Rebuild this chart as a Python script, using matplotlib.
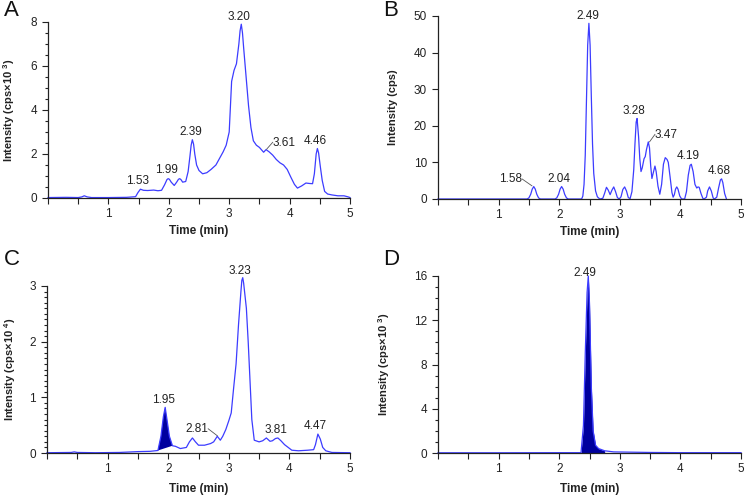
import numpy as np
import matplotlib
matplotlib.use("Agg")
from matplotlib import pyplot as plt
from matplotlib.ticker import MultipleLocator

plt.rcParams['font.family'] = ['Liberation Sans', 'DejaVu Sans']
plt.rcParams['mathtext.fontset'] = 'custom'
plt.rcParams['mathtext.rm'] = 'Liberation Sans:bold'
plt.rcParams['mathtext.default'] = 'rm'

# panel A: chromatogram (cps x 10^3)
a_time = [0, 0.3, 0.5, 0.56, 0.6, 0.65, 0.72, 1.0, 1.3, 1.45,
          1.49, 1.53, 1.58, 1.65, 1.75, 1.82, 1.88, 1.93, 1.97, 1.99,
          2.01, 2.04, 2.09, 2.13, 2.16, 2.18, 2.2, 2.23, 2.28, 2.32,
          2.35, 2.37, 2.39, 2.41, 2.43, 2.46, 2.5, 2.56, 2.63, 2.7,
          2.78, 2.85, 2.9, 2.95, 3.0, 3.04, 3.08, 3.12, 3.16, 3.18,
          3.2, 3.22, 3.24, 3.28, 3.32, 3.36, 3.4, 3.45, 3.5, 3.57,
          3.61, 3.66, 3.72, 3.78, 3.84, 3.9, 3.96, 4.02, 4.08, 4.13,
          4.2, 4.27, 4.33, 4.38, 4.41, 4.44, 4.46, 4.48, 4.51, 4.54,
          4.58, 4.63, 4.7, 4.8, 4.9, 4.97, 5.0]
a_int = [0.02, 0.03, 0.02, 0.05, 0.1, 0.05, 0.02, 0.02, 0.03, 0.06,
         0.25, 0.4, 0.35, 0.34, 0.36, 0.33, 0.35, 0.6, 0.84, 0.88,
         0.85, 0.72, 0.57, 0.72, 0.85, 0.88, 0.84, 0.72, 0.75, 1.2,
         1.9, 2.4, 2.65, 2.45, 2.0, 1.5, 1.25, 1.1, 1.15, 1.3,
         1.5, 1.85, 2.1, 2.4, 3.0, 5.3, 5.8, 6.1, 7.0, 7.6,
         7.9, 7.5, 6.8, 5.5, 4.2, 3.2, 2.6, 2.4, 2.3, 2.08,
         2.2, 2.1, 1.95, 1.75, 1.6, 1.5, 1.3, 0.95, 0.62, 0.45,
         0.55, 0.68, 0.66, 0.65, 1.1, 2.0, 2.25, 2.05, 1.4, 0.8,
         0.3, 0.18, 0.14, 0.1, 0.1, 0.05, 0.02]

# panel B: chromatogram (cps)
b_time = [0, 1.47, 1.5, 1.53, 1.555, 1.58, 1.605, 1.63, 1.66, 1.69,
          1.93, 1.96, 1.99, 2.015, 2.04, 2.065, 2.09, 2.12, 2.15,
          2.37, 2.39, 2.41, 2.43, 2.45, 2.47, 2.49, 2.51, 2.53, 2.55, 2.57, 2.6, 2.63, 2.67,
          2.72, 2.75, 2.78, 2.81, 2.84, 2.87, 2.9, 2.93, 2.96, 2.99, 3.02, 3.05, 3.08,
          3.11, 3.14, 3.17,
          3.2, 3.23, 3.25, 3.27, 3.285, 3.31, 3.33, 3.35, 3.37, 3.4,
          3.42, 3.44, 3.47, 3.49, 3.51, 3.53, 3.55, 3.58, 3.6, 3.63,
          3.66, 3.69, 3.72, 3.75, 3.78, 3.8, 3.83, 3.86, 3.88, 3.9,
          3.92, 3.94, 3.96, 3.99, 4.02, 4.07,
          4.1, 4.13, 4.16, 4.18, 4.21, 4.24, 4.27, 4.29, 4.31, 4.34,
          4.37, 4.39, 4.43, 4.45, 4.48, 4.51, 4.54, 4.56, 4.6, 4.63,
          4.66, 4.68, 4.7, 4.73, 4.76]
b_int = [0, 0, 0.3, 1.3, 2.7, 3.4, 2.7, 1.3, 0.3, 0,
         0, 0.3, 1.3, 2.7, 3.4, 2.7, 1.3, 0.3, 0,
         0, 0.8, 4, 12, 27, 42, 48, 42, 28, 15, 7, 2.2, 0.6, 0,
         0.2, 1.6, 3.2, 2.4, 1.2, 2.4, 3.3, 2.0, 0.4, 0, 0.6, 2.6, 3.3,
         2.2, 0.4, 0.1,
         2, 8, 15, 21, 22, 17, 11, 7.5, 8.5, 11,
         11.6, 13.5, 15.6, 14, 9, 5.6, 7, 9, 7.5, 3.5,
         1.3, 4, 9.5, 11.3, 10.8, 10, 6, 1.8, 0.5, 1.2,
         2.7, 3.3, 2.7, 0.8, 0, 0,
         2, 6.5, 9.2, 9.5, 7.5, 4, 3.0, 3.3, 3.2, 1.5,
         0.2, 0, 0.5, 2.2, 3.3, 2.2, 0.3, 0, 0.5, 3,
         5.2, 5.5, 4.5, 1.5, 0]

# panel C: chromatogram (cps x 10^4), shaded peak 1.83-2.07
c_time = [0, 0.4, 0.45, 0.5, 0.8, 1.2, 1.5, 1.7, 1.83, 1.88, 1.92, 1.95, 1.98, 2.02, 2.07,
          2.12, 2.2, 2.3, 2.35, 2.4, 2.45, 2.5, 2.6, 2.7, 2.75, 2.81, 2.86, 2.9, 2.95,
          3.0, 3.04, 3.08, 3.12, 3.16, 3.2, 3.215, 3.23, 3.245, 3.26, 3.29, 3.32, 3.35,
          3.38, 3.42, 3.5, 3.56, 3.62, 3.68, 3.72, 3.77, 3.81, 3.86, 3.92, 3.98, 4.04,
          4.15, 4.3, 4.4, 4.43, 4.47, 4.51, 4.55, 4.6, 4.7, 5.0]
c_int = [0.005, 0.01, 0.02, 0.01, 0.005, 0.01, 0.025, 0.03, 0.045, 0.3, 0.65, 0.82, 0.6,
         0.3, 0.13, 0.12, 0.08, 0.1, 0.2, 0.27, 0.2, 0.14, 0.14, 0.17, 0.2, 0.3, 0.23,
         0.3, 0.42, 0.58, 0.72, 1.17, 1.6, 2.3, 2.9, 3.1, 3.15, 3.05, 2.9, 2.6, 2.0,
         1.3, 0.6, 0.23, 0.2, 0.22, 0.27, 0.21, 0.22, 0.26, 0.27, 0.22, 0.15, 0.1,
         0.05, 0.04, 0.05, 0.06, 0.15, 0.34, 0.25, 0.1, 0.04, 0.01, 0.005]
c_fill = (8, 15)  # index range of shaded peak

# panel D: chromatogram (cps x 10^3), shaded peak
d_time = [0, 1.0, 2.0, 2.36, 2.4, 2.43, 2.46, 2.48, 2.5, 2.53, 2.56, 2.6, 2.65, 2.75, 2.9,
          3.5, 4.0, 5.0]
d_int = [0.02, 0.02, 0.03, 0.03, 2.5, 9, 14.5, 16, 13.5, 6, 2, 0.7, 0.4, 0.2, 0.1,
         0.05, 0.03, 0.03]
d_fill = (3, 14)

# peak labels: (text, x, y, leader start or None)
a_labels = [("1.53", 1.49, 0.5, None), ("1.99", 1.96, 0.98, None), ("2.39", 2.36, 2.72, None),
            ("3.20", 3.16, 7.95, None), ("3.61", 3.9, 2.25, (3.62, 2.22)),
            ("4.46", 4.42, 2.3, None)]
b_labels = [("1.58", 1.2, 3.7, (1.55, 3.6)), ("2.04", 2.0, 3.9, None), ("2.49", 2.47, 48.3, None),
            ("3.28", 3.24, 22.5, None), ("3.47", 3.76, 15.9, (3.49, 15.6)),
            ("4.19", 4.13, 10.0, None), ("4.68", 4.64, 6.0, None)]
c_labels = [("1.95", 1.92, 0.84, None), ("2.81", 2.47, 0.33, (2.81, 0.31)),
            ("3.23", 3.18, 3.16, None), ("3.81", 3.78, 0.3, None), ("4.47", 4.42, 0.37, None)]
d_labels = [("2.49", 2.43, 15.7, None)]

line_col = '#3c3cff'
fill_col = '#00009e'
txt_col = '#222222'

fig = plt.figure(figsize=(7.47, 4.96), dpi=100)


def setup(ax, ymax, major, minor, ylabel, ylab_x, xlab_y):
    ax.set_xlim(0, 5)
    ax.set_ylim(0, ymax)
    for s in ['top', 'right']:
        ax.spines[s].set_visible(False)
    for s in ['left', 'bottom']:
        ax.spines[s].set_linewidth(0.9)
        ax.spines[s].set_color('#222222')
    ax.set_xticks([1, 2, 3, 4, 5])
    ax.xaxis.set_minor_locator(MultipleLocator(0.5))
    ax.yaxis.set_major_locator(MultipleLocator(major))
    if minor:
        ax.yaxis.set_minor_locator(MultipleLocator(minor))
    ax.tick_params(which='major', length=4, width=0.8, labelsize=8.5, colors='#222222')
    ax.tick_params(axis='y', which='major', pad=4)
    ax.tick_params(axis='x', which='major', pad=3)
    ax.tick_params(axis='x', which='minor', length=4, width=0.8, colors='#222222')
    ax.tick_params(axis='y', which='minor', length=2.5, width=0.8, colors='#222222')
    ax.set_xlabel('Time (min)', fontsize=8.5, fontweight='bold', color=txt_col)
    ax.set_ylabel(ylabel, fontsize=8, fontweight='bold', color=txt_col)
    ax.yaxis.set_label_coords(ylab_x, 0.5)
    ax.xaxis.set_label_coords(0.5, xlab_y)


def add_labels(ax, labels):
    for txt, x, y, lead in labels:
        ax.text(x, y, txt, fontsize=8.5, color=txt_col, ha='center', va='bottom')
        if lead is not None:
            if x < lead[0]:
                end = (x + 0.19, y + (ax.get_ylim()[1] * 0.035))
            else:
                end = (x - 0.18, y + (ax.get_ylim()[1] * 0.035))
            ax.plot([lead[0], end[0]], [lead[1], end[1]], color='#555555', lw=0.6,
                    clip_on=False)


# A
axA = fig.add_axes([48 / 747, 1 - 198 / 496, 302 / 747, 176 / 496])
axA.plot(a_time, a_int, color=line_col, lw=0.9, clip_on=False)
setup(axA, 8, 2, 0.5, r'Intensity (cps×10 $^{3}$)', -0.103, -0.155)
add_labels(axA, a_labels)

# B
axB = fig.add_axes([438 / 747, 1 - 199 / 496, 303 / 747, 183 / 496])
axB.plot(b_time, b_int, color=line_col, lw=0.9, clip_on=False)
setup(axB, 50, 10, None, 'Intensity (cps)', -0.132, -0.148)
add_labels(axB, b_labels)

# C
axC = fig.add_axes([47 / 747, 1 - 453 / 496, 303 / 747, 167 / 496])
axC.plot(c_time, c_int, color=line_col, lw=0.9, clip_on=False)
i0, i1 = c_fill
axC.fill(c_time[i0:i1], c_int[i0:i1], color=fill_col, lw=0)
setup(axC, 3, 1, 0.1, r'Intensity (cps×10 $^{4}$)', -0.096, -0.18)
add_labels(axC, c_labels)

# D
axD = fig.add_axes([438 / 747, 1 - 453 / 496, 303 / 747, 177 / 496])
axD.plot(d_time, d_int, color=line_col, lw=0.9, clip_on=False)
i0, i1 = d_fill
axD.fill_between(d_time[i0:i1], 0, d_int[i0:i1], color=fill_col, lw=0)
setup(axD, 16, 4, 1, r'Intensity (cps×10 $^{3}$)', -0.152, -0.17)
add_labels(axD, d_labels)

for lab, x, y in [('A', 4, 21), ('B', 383, 21), ('C', 4, 270), ('D', 383, 270)]:
    fig.text(x / 747, 1 - y / 496, lab, fontsize=16, color='#111111', va='bottom')

fig.savefig('out.png', dpi=100)
